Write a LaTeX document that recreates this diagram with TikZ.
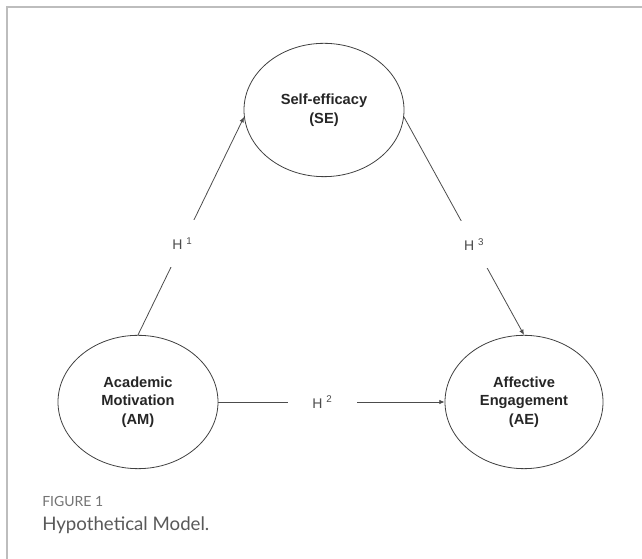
\documentclass[tikz,border=0pt]{standalone}
\usepackage{fontspec}
\setmainfont{Liberation Sans}
\newfontfamily\capfont{Lato}
\usetikzlibrary{shapes.geometric,arrows.meta}
\definecolor{framegray}{HTML}{BDBDBD}
\begin{document}
\begin{tikzpicture}[x=0.75pt,y=0.75pt,
  construct/.style={draw=black!75, ellipse, line width=0.6pt, align=center,
    font=\bfseries\fontsize{11}{14}\selectfont, text=black!85},
  link/.style={draw=black!70, line width=0.6pt, -{Latex[length=4pt,width=3.5pt]}},
  hyp/.style={fill=white, font=\fontsize{10.5}{12}\selectfont, text=black!70}]
\useasboundingbox (0,0) rectangle (642,559);
\draw[framegray, line width=1.1pt] (7,0) -- (7,552) -- (642,552);
% the three constructs
\node[construct, minimum width=120pt, minimum height=100pt] (se) at (324,449)
{Self-efficacy\\(SE)};
\node[construct, minimum width=120pt, minimum height=100pt] (am) at (138,157)
{Academic\\Motivation\\(AM)};
\node[construct, minimum width=118.5pt, minimum height=100pt] (ae) at (524,157)
{Affective\\Engagement\\(AE)};
% hypotheses
\draw[link] (am.north) -- node[hyp, pos=0.42, inner xsep=4pt, inner ysep=13pt]
{H\ \textsuperscript{1}} (se.185);
\draw[link] (am.east) -- node[hyp, pos=0.46, inner xsep=18.5pt, inner ysep=3pt]
{H\ \textsuperscript{2}} (ae.west);
\draw[link] (se.355) -- node[hyp, pos=0.585, inner xsep=4pt, inner ysep=13pt]
{H\ \textsuperscript{3}} (ae.north);
% caption
\node[anchor=base west, inner sep=0, font=\capfont\fontsize{10.5}{12}\selectfont,
  text=black!55] (fig) at (42,52) {FIGURE 1};
\node[anchor=base west, inner sep=0, font=\capfont\fontsize{14}{16}\selectfont,
  text=black!65] (cap) at (42,28) {Hypothetical Model.};
\end{tikzpicture}
\end{document}
